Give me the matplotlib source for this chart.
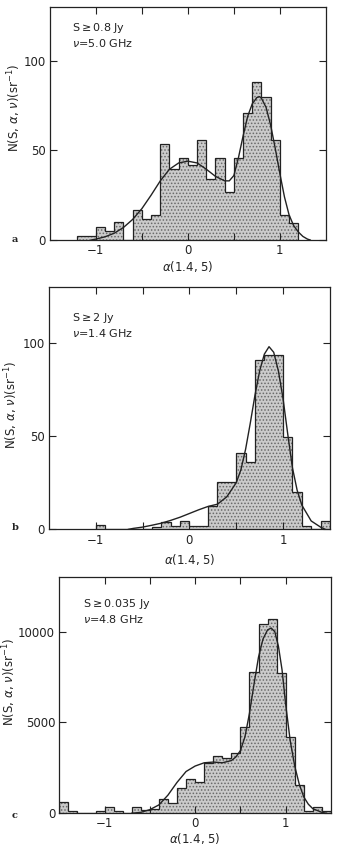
import numpy as np
import matplotlib.pyplot as plt

plt.rcParams['font.family'] = 'DejaVu Sans'
plt.rcParams['mathtext.fontset'] = 'dejavusans'
plt.rcParams['hatch.linewidth'] = 0.7
plt.rcParams['hatch.color'] = '#6a6a6a'

# panel a: S >= 0.8 Jy, 5.0 GHz
edges_a = np.round(np.arange(-1.2, 1.2001, 0.1), 2)
counts_a = [2, 2, 7, 5, 10, 0, 17, 12, 14, 53.5, 39.5, 46, 42, 56, 34, 46,
            27, 46, 71, 88, 80, 56, 14, 9.5]
curve_a_x = [-1.05, -1.0, -0.9, -0.8, -0.7, -0.6, -0.5, -0.4, -0.3, -0.2, -0.1,
             0.0, 0.1, 0.2, 0.3, 0.4, 0.45, 0.5, 0.55, 0.6, 0.65, 0.7, 0.75,
             0.78, 0.8, 0.85, 0.9, 0.95, 1.0, 1.05, 1.1, 1.15, 1.2, 1.25, 1.3, 1.33]
curve_a_y = [0, 0.5, 1.8, 3.8, 7, 11.5, 17.5, 25, 33, 39.5, 43,
             44, 43, 39.5, 35.5, 33, 33, 36, 46, 58, 69, 76, 79.5,
             80, 79, 74, 64, 51, 37, 24, 14, 8, 4.5, 2, 0.5, 0]

# panel b: S >= 2 Jy, 1.4 GHz
edges_b = np.round(np.arange(-1.0, 1.5001, 0.1), 2)
counts_b = [2.5, 0, 0, 0, 0, 0, 1.5, 4, 2, 4.5, 2, 2, 12.7, 25.5, 25.5, 41,
            36, 91, 93.5, 93.5, 49.5, 20, 2, 0, 4.5]
curve_b_x = [-0.65, -0.6, -0.5, -0.4, -0.3, -0.2, -0.1, 0.0, 0.1, 0.2, 0.3,
             0.4, 0.5, 0.55, 0.6, 0.65, 0.7, 0.75, 0.8, 0.85, 0.9, 0.95, 1.0,
             1.05, 1.1, 1.15, 1.2, 1.3, 1.4, 1.45]
curve_b_y = [0, 0.5, 1.2, 2.2, 3.3, 4.8, 6.5, 8.5, 10.5, 12.3, 13.5,
             17.5, 25, 32, 43, 57, 72, 85, 94, 98, 95, 85, 70,
             51, 33, 21, 13, 4.5, 1.2, 0]

# panel c: S >= 0.035 Jy, 4.8 GHz
edges_c = np.round(np.arange(-1.5, 1.5001, 0.1), 2)
counts_c = [600, 150, 0, 0, 150, 370, 150, 0, 370, 180, 250, 800, 570, 1400,
            1870, 1700, 2780, 3180, 3030, 3300, 4770, 7800, 10450, 10700,
            7700, 4200, 1560, 150, 370, 130]
curve_c_x = [-0.7, -0.6, -0.5, -0.4, -0.3, -0.2, -0.1, 0.0, 0.1, 0.2, 0.3,
             0.4, 0.45, 0.5, 0.55, 0.6, 0.65, 0.7, 0.75, 0.8, 0.84, 0.88,
             0.92, 0.96, 1.0, 1.05, 1.1, 1.15, 1.2, 1.25, 1.3, 1.4, 1.45]
curve_c_y = [0, 50, 200, 460, 1000, 1700, 2300, 2600, 2780, 2820, 2780,
             2900, 3100, 3450, 4200, 5500, 7100, 8600, 9600, 10100, 10200, 10000,
             9200, 7900, 6000, 4000, 2600, 1600, 900, 500, 250, 50, 0]

fig = plt.figure(figsize=(3.37, 8.46), dpi=100)

panels = [
    dict(rect=[0.148, 0.7163, 0.819, 0.2754], edges=edges_a, counts=counts_a,
         cx=curve_a_x, cy=curve_a_y, ymax=130, yticks=[0, 50, 100],
         text='S$\\geq$0.8 Jy\n$\\nu$=5.0 GHz', tpos=(0.08, 0.94),
         ylab=(-0.098, 0.567), xlab=-0.082, letter='a', ly=240),
    dict(rect=[0.145, 0.3743, 0.834, 0.2864], edges=edges_b, counts=counts_b,
         cx=curve_b_x, cy=curve_b_y, ymax=130, yticks=[0, 50, 100],
         text='S$\\geq$2 Jy\n$\\nu$=1.4 GHz', tpos=(0.082, 0.90),
         ylab=(-0.103, 0.513), xlab=-0.094, letter='b', ly=528),
    dict(rect=[0.176, 0.0387, 0.806, 0.279], edges=edges_c, counts=counts_c,
         cx=curve_c_x, cy=curve_c_y, ymax=13000, yticks=[0, 5000, 10000],
         text='S$\\geq$0.035 Jy\n$\\nu$=4.8 GHz', tpos=(0.088, 0.915),
         ylab=(-0.152, 0.555), xlab=-0.075, letter='c', ly=815),
]

for p in panels:
    ax = fig.add_axes(p['rect'])
    ax.stairs(p['counts'], p['edges'], fill=True, facecolor='#cbcbcb',
              edgecolor='#6a6a6a', linewidth=0, hatch='.....')
    ax.stairs(p['counts'], p['edges'], color='#222222', linewidth=0.9, baseline=0)
    ax.plot(p['cx'], p['cy'], color='#222222', linewidth=1.0)
    ax.set_xlim(-1.5, 1.5)
    ax.set_ylim(0, p['ymax'])
    ax.set_xticks([-1, -0.5, 0, 0.5, 1])
    ax.set_xticklabels(['\u22121', '', '0', '', '1'])
    ax.set_yticks(p['yticks'])
    ax.set_yticklabels([str(t) for t in p['yticks']])
    ax.tick_params(direction='in', top=True, right=True, length=5, width=0.8,
                   labelsize=8.5, colors='#222222', pad=3)
    for s in ax.spines.values():
        s.set_linewidth(0.9)
        s.set_color('#222222')
    ax.set_xlabel('$\\alpha$(1.4, 5)', fontsize=8.5, color='#222222')
    ax.xaxis.set_label_coords(0.5, p['xlab'])
    ax.set_ylabel('N(S, $\\alpha$, $\\nu$)(sr$^{-1}$)', fontsize=8.5, color='#222222')
    ax.yaxis.set_label_coords(*p['ylab'])
    ax.text(p['tpos'][0], p['tpos'][1], p['text'], transform=ax.transAxes,
            ha='left', va='top', fontsize=8, linespacing=1.15, color='#222222')
    fig.text(12 / 337, 1 - p['ly'] / 846, p['letter'], family='DejaVu Serif',
             fontsize=7, fontweight='bold', va='center', ha='left', color='#222222')

fig.savefig('out.png', dpi=100)
